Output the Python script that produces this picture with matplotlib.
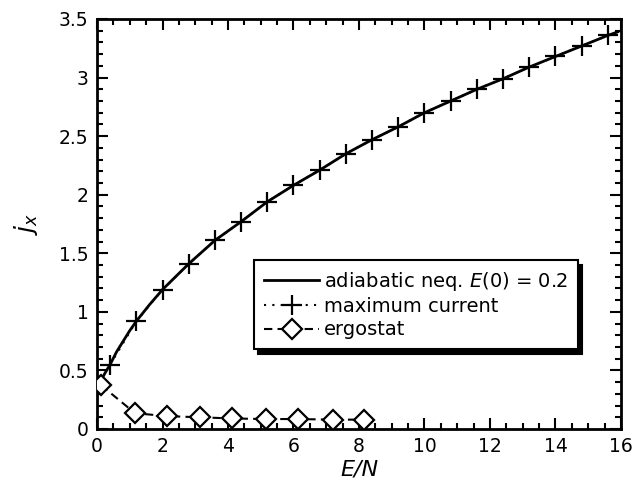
import matplotlib
matplotlib.use("Agg")
import matplotlib.pyplot as plt
from matplotlib.ticker import MultipleLocator

# --- data ---
adiabatic_x = [0.1, 0.15, 0.25, 0.4, 0.6, 0.8, 1.0, 1.2, 1.6, 2.0, 2.8, 3.6, 4.4,
               5.2, 6.0, 6.8, 7.6, 8.4, 9.2, 10.0, 10.8, 11.6, 12.4, 13.2, 14.0,
               14.8, 15.6, 15.9]
adiabatic_y = [0.40, 0.43, 0.48, 0.55, 0.66, 0.75, 0.84, 0.92, 1.06, 1.19, 1.41,
               1.61, 1.77, 1.94, 2.08, 2.21, 2.35, 2.47, 2.58, 2.70, 2.80, 2.90,
               2.99, 3.09, 3.18, 3.27, 3.36, 3.39]

maxcur_x = [0.4, 1.2, 2.0, 2.8, 3.6, 4.4, 5.2, 6.0, 6.8, 7.6, 8.4, 9.2, 10.0,
            10.8, 11.6, 12.4, 13.2, 14.0, 14.8, 15.6]
maxcur_y = [0.55, 0.92, 1.19, 1.41, 1.61, 1.77, 1.94, 2.08, 2.21, 2.35, 2.47,
            2.58, 2.70, 2.80, 2.90, 2.99, 3.09, 3.18, 3.27, 3.36]

ergo_x = [0.12, 1.16, 2.13, 3.15, 4.11, 5.15, 6.13, 7.2, 8.15]
ergo_y = [0.375, 0.135, 0.11, 0.10, 0.09, 0.085, 0.085, 0.08, 0.08]

xticks = [0, 2, 4, 6, 8, 10, 12, 14, 16]
yticks = [0, 0.5, 1, 1.5, 2, 2.5, 3, 3.5]
ytick_labels = ["0", "0.5", "1", "1.5", "2", "2.5", "3", "3.5"]

plt.rcParams['font.family'] = ['DejaVu Sans']

fig = plt.figure(figsize=(6.34, 4.87), dpi=100)
ax = fig.add_axes([97/634, 1-429/487, 524/634, 410/487])

ax.plot(adiabatic_x, adiabatic_y, '-', color='black', lw=2.0,
        label='adiabatic neq. $\\mathit{E}$(0) = 0.2', zorder=3)
ax.plot(maxcur_x, maxcur_y, linestyle=(0, (1, 3)), color='black', lw=1.5,
        marker='+', markersize=14, markeredgewidth=1.6,
        label='maximum current', zorder=4)
ax.plot(ergo_x, ergo_y, linestyle=(0, (4, 2.5)), color='black', lw=1.5,
        marker='D', markersize=10, markerfacecolor='white',
        markeredgecolor='black', markeredgewidth=1.6,
        label='ergostat', zorder=4)

ax.set_xlim(0, 16)
ax.set_ylim(0, 3.5)
ax.set_xticks(xticks)
ax.set_yticks(yticks)
ax.set_yticklabels(ytick_labels)
ax.xaxis.set_minor_locator(MultipleLocator(0.5))
ax.yaxis.set_minor_locator(MultipleLocator(0.1))
ax.tick_params(which='both', direction='in', top=True, right=True,
               width=1.5, labelsize=13.5, pad=6)
ax.tick_params(which='major', length=8)
ax.tick_params(which='minor', length=4)
for s in ax.spines.values():
    s.set_linewidth(2)

ax.set_xlabel('E/N', fontsize=16, fontstyle='italic', labelpad=2)
ax.set_ylabel('$j_x$', fontsize=18, labelpad=14)

leg = ax.legend(loc='upper left', bbox_to_anchor=(0.30, 0.412),
                borderaxespad=0, fancybox=False, frameon=True,
                edgecolor='black', fontsize=14, handlelength=2.85,
                handletextpad=0.25, labelspacing=0.22, borderpad=0.5,
                shadow={'ox': 3, 'oy': -3.5, 'facecolor': 'black',
                        'edgecolor': 'black', 'alpha': 1})
leg.get_frame().set_linewidth(1.5)
leg.get_frame().set_alpha(1)

fig.savefig('out.png', dpi=100)
